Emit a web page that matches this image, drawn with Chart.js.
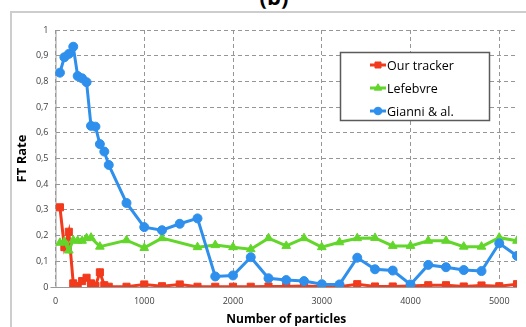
<!DOCTYPE html>
<html>
<head>
<meta charset="utf-8">
<script src="https://cdn.jsdelivr.net/npm/chart.js@4/dist/chart.umd.min.js"></script>
<style>
  html, body { margin: 0; padding: 0; background: #fff; }
  #wrap { position: relative; width: 526px; height: 327px; overflow: hidden; }
  #frame { position: absolute; left: 10px; top: 11px; width: 600px; height: 400px;
           border: 2px solid #cdcdcd; box-sizing: border-box; }
  #label { position: absolute; left: 224px; width: 100px; top: -15px; text-align: center;
           font: bold 22px "Open Sans", sans-serif; line-height: 22px; color: #000; }
  canvas { position: absolute; left: 0; top: 0; }
</style>
</head>
<body>
<div id="wrap">
  <div id="frame"></div>
  <div id="label">(b)</div>
  <canvas id="c" width="526" height="327"></canvas>
</div>
<script>
// Particle counts tested for each tracker
const trackerX = [50, 100, 150, 200, 250, 300, 350, 400, 450, 500, 550, 600,
  800, 1000, 1200, 1400, 1600, 1800, 2000, 2200, 2400, 2600, 2800, 3000,
  3200, 3400, 3600, 3800, 4000, 4200, 4400, 4600, 4800, 5000, 5200];
const trackerRate = [0.31, 0.155, 0.215, 0.014, 0.004, 0.023, 0.036, 0.014, 0.004, 0.057, 0.007, 0.001,
  0.001, 0.01, 0.003, 0.01, 0.001, 0.001, 0.001, 0.001, 0.002, 0.002, 0.004, 0.001,
  0.001, 0.011, 0.002, 0.002, 0.004, 0.007, 0.007, 0.002, 0.006, 0.003, 0.011];

const lefebvreX = [50, 100, 150, 200, 250, 300, 350, 400, 500,
  800, 1000, 1200, 1600, 1800, 2000, 2200, 2400, 2600, 2800, 3000,
  3200, 3400, 3600, 3800, 4000, 4200, 4400, 4600, 4800, 5000, 5200];
const lefebvreRate = [0.172, 0.176, 0.142, 0.182, 0.18, 0.18, 0.19, 0.192, 0.157,
  0.182, 0.152, 0.19, 0.155, 0.163, 0.155, 0.147, 0.19, 0.16, 0.19, 0.155,
  0.174, 0.19, 0.191, 0.16, 0.16, 0.18, 0.18, 0.157, 0.157, 0.192, 0.18];

const gianniX = [50, 100, 150, 200, 250, 300, 350, 400, 450, 500, 550, 600,
  800, 1000, 1200, 1400, 1600, 1800, 2000, 2200, 2400, 2600, 2800, 3000,
  3200, 3400, 3600, 3800, 4000, 4200, 4400, 4600, 4800, 5000, 5200];
const gianniRate = [0.834, 0.894, 0.907, 0.935, 0.821, 0.812, 0.797, 0.627, 0.624, 0.556, 0.527, 0.475,
  0.327, 0.233, 0.221, 0.246, 0.267, 0.041, 0.045, 0.116, 0.034, 0.027, 0.023, 0.011,
  0.01, 0.114, 0.069, 0.064, 0.01, 0.086, 0.077, 0.066, 0.062, 0.17, 0.121];

const xTicks = [0, 1000, 2000, 3000, 4000, 5000];
const yTicks = [0, 0.1, 0.2, 0.3, 0.4, 0.5, 0.6, 0.7, 0.8, 0.9, 1];

const seriesNames = ['Our tracker', 'Lefebvre', 'Gianni & al.'];
const RED = '#f23a1c', GREEN = '#62d62a', BLUE = '#2e90ec';

const pts = (xs, ys) => xs.map((x, i) => ({ x: x, y: ys[i] }));

// Solid axis lines at the left and bottom of the plot area
const solidAxes = {
  id: 'solidAxes',
  beforeDatasetsDraw(chart) {
    const { ctx, chartArea: a } = chart;
    ctx.save();
    ctx.strokeStyle = '#9a9a9a';
    ctx.lineWidth = 1;
    ctx.setLineDash([]);
    ctx.beginPath();
    ctx.moveTo(a.left + 0.5, a.top);
    ctx.lineTo(a.left + 0.5, a.bottom + 0.5);
    ctx.moveTo(a.left - 5, a.bottom + 0.5);
    ctx.lineTo(a.right, a.bottom + 0.5);
    ctx.stroke();
    ctx.restore();
  }
};

// Boxed legend inside the plot, drawn from the dataset styles
const boxLegend = {
  id: 'boxLegend',
  afterDraw(chart) {
    const ctx = chart.ctx;
    const bx = 340.5, by = 52.5, bw = 149, bh = 68;
    ctx.save();
    ctx.fillStyle = '#fff';
    ctx.fillRect(bx, by, bw, bh);
    ctx.strokeStyle = '#5a5a5a';
    ctx.lineWidth = 1.5;
    ctx.strokeRect(bx, by, bw, bh);
    chart.data.datasets.forEach((ds, i) => {
      const cy = 65 + i * 23;
      ctx.strokeStyle = ds.borderColor;
      ctx.lineWidth = 3;
      ctx.beginPath();
      ctx.moveTo(370, cy);
      ctx.lineTo(386, cy);
      ctx.stroke();
      ctx.fillStyle = ds.pointBackgroundColor;
      ctx.strokeStyle = ds.pointBorderColor;
      ctx.lineWidth = 1;
      Chart.helpers.drawPoint(ctx, {
        pointStyle: ds.pointStyle, radius: ds.pointRadius * 0.85, rotation: 0, borderWidth: 1
      }, 378, cy);
      ctx.fillStyle = '#000';
      ctx.font = '12.5px "Open Sans", sans-serif';
      ctx.textBaseline = 'middle';
      ctx.fillText(ds.label, 387, cy + 1);
    });
    ctx.restore();
  }
};

const lineSet = (label, xs, ys, color, style, radius, order) => ({
  label: label,
  data: pts(xs, ys),
  borderColor: color,
  backgroundColor: color,
  pointBackgroundColor: color,
  pointBorderColor: color,
  borderWidth: 3,
  pointStyle: style,
  pointRadius: radius,
  pointBorderWidth: 1,
  tension: 0,
  order: order
});

new Chart(document.getElementById('c'), {
  type: 'line',
  data: {
    datasets: [
      lineSet(seriesNames[0], trackerX, trackerRate, RED, 'rect', 5, 3),
      lineSet(seriesNames[1], lefebvreX, lefebvreRate, GREEN, 'triangle', 5, 2),
      lineSet(seriesNames[2], gianniX, gianniRate, BLUE, 'circle', 4.5, 1)
    ]
  },
  options: {
    responsive: false,
    animation: false,
    layout: { padding: { left: 0, top: 30, right: 9, bottom: 0 } },
    plugins: { legend: { display: false }, tooltip: { enabled: false } },
    scales: {
      x: {
        type: 'linear',
        min: 0,
        max: 5200,
        afterFit(s) { s.height = 40; },
        afterBuildTicks(s) { s.ticks = xTicks.map(v => ({ value: v })); },
        grid: { color: '#969696', lineWidth: 1, drawTicks: false },
        border: { display: false, dash: [4, 3] },
        ticks: {
          color: '#404040', font: { family: 'Open Sans', size: 9 }, padding: 9, maxRotation: 0,
          callback: v => String(v)
        },
        title: {
          display: true, text: 'Number of particles', color: '#000',
          font: { family: 'Open Sans', size: 12, weight: 'bold' }, padding: { top: 7, bottom: 0 }
        }
      },
      y: {
        min: 0,
        max: 1,
        afterFit(s) { s.width = 55.5; },
        afterBuildTicks(s) { s.ticks = yTicks.map(v => ({ value: v })); },
        grid: { color: '#969696', lineWidth: 1, drawTicks: false },
        border: { display: false, dash: [4, 3] },
        ticks: {
          color: '#404040', font: { family: 'Open Sans', size: 9 }, padding: 7,
          callback: v => (v === 0 || v === 1) ? String(v) : v.toFixed(1).replace('.', ',')
        },
        title: {
          display: true, text: 'FT Rate', color: '#000',
          font: { family: 'Open Sans', size: 13, weight: 'bold' }, padding: { top: 14, bottom: 0 }
        }
      }
    }
  },
  plugins: [solidAxes, boxLegend]
});
</script>
</body>
</html>
